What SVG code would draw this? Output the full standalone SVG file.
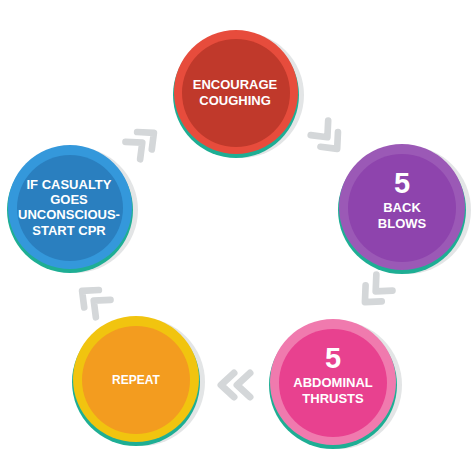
<svg xmlns="http://www.w3.org/2000/svg" width="476" height="476" viewBox="0 0 476 476">
<defs>
<style>
.shadow{fill:#e3e5e6}
.teal{fill:#1eae94}
.t{font-family:"Liberation Sans",Arial,sans-serif;font-weight:bold;fill:#ffffff;text-anchor:middle;font-size:13px}
.big{font-size:29px}
.chev{fill:none;stroke:#d4d7d9;stroke-width:7;stroke-linecap:round;stroke-linejoin:round}
</style>
<path id="ch" d="M-2,-12 L-15,0 L-2,12 M14,-12 L1,0 L14,12"/>
</defs>
<rect width="476" height="476" fill="#ffffff"/>
<g id="connectors">
<use href="#ch" class="chev" transform="translate(143,142) rotate(140) scale(0.95)"/>
<use href="#ch" class="chev" transform="translate(328,138) rotate(-130) scale(0.95)"/>
<use href="#ch" class="chev" transform="translate(375,292) rotate(-45) scale(0.95)"/>
<use href="#ch" class="chev" transform="translate(236,385)"/>
<use href="#ch" class="chev" transform="translate(93,300) rotate(40) scale(0.95)"/>
</g>
<g id="encourage">
<circle class="shadow" cx="241" cy="95" r="63"/>
<circle class="teal" cx="236" cy="95" r="63"/>
<circle cx="236" cy="92" r="62" fill="#e74c3c"/>
<circle cx="236" cy="93" r="54" fill="#c0392b"/>
<text class="t" x="235" y="89">ENCOURAGE</text>
<text class="t" x="235" y="105">COUGHING</text>
</g>
<g id="back-blows">
<circle class="shadow" cx="407" cy="210" r="64"/>
<circle class="teal" cx="402" cy="210" r="64"/>
<circle cx="402" cy="207" r="63" fill="#9b59b6"/>
<circle cx="402" cy="208" r="54" fill="#8e44ad"/>
<text class="t big" x="402" y="193">5</text>
<text class="t" x="402" y="212">BACK</text>
<text class="t" x="402" y="228">BLOWS</text>
</g>
<g id="abdominal">
<circle class="shadow" cx="338" cy="385" r="64"/>
<circle class="teal" cx="333" cy="385" r="64"/>
<circle cx="333" cy="382" r="63" fill="#f07aae"/>
<circle cx="333" cy="383" r="54" fill="#e8418f"/>
<text class="t big" x="333" y="368">5</text>
<text class="t" x="333" y="387">ABDOMINAL</text>
<text class="t" x="333" y="403">THRUSTS</text>
</g>
<g id="repeat">
<circle class="shadow" cx="141" cy="382" r="64"/>
<circle class="teal" cx="136" cy="382" r="64"/>
<circle cx="136" cy="379" r="63" fill="#f1c40f"/>
<circle cx="136" cy="380" r="54" fill="#f39c1f"/>
<text class="t" x="136" y="384" style="font-size:12px">REPEAT</text>
</g>
<g id="start-cpr">
<circle class="shadow" cx="75" cy="210" r="63"/>
<circle class="teal" cx="70" cy="210" r="63"/>
<circle cx="70" cy="207" r="62" fill="#3498db"/>
<circle cx="70" cy="208" r="53" fill="#2a7fbf"/>
<text class="t" x="69" y="188.5">IF CASUALTY</text>
<text class="t" x="69" y="204">GOES</text>
<text class="t" x="69" y="219">UNCONSCIOUS-</text>
<text class="t" x="69" y="234.5">START CPR</text>
</g>
</svg>
